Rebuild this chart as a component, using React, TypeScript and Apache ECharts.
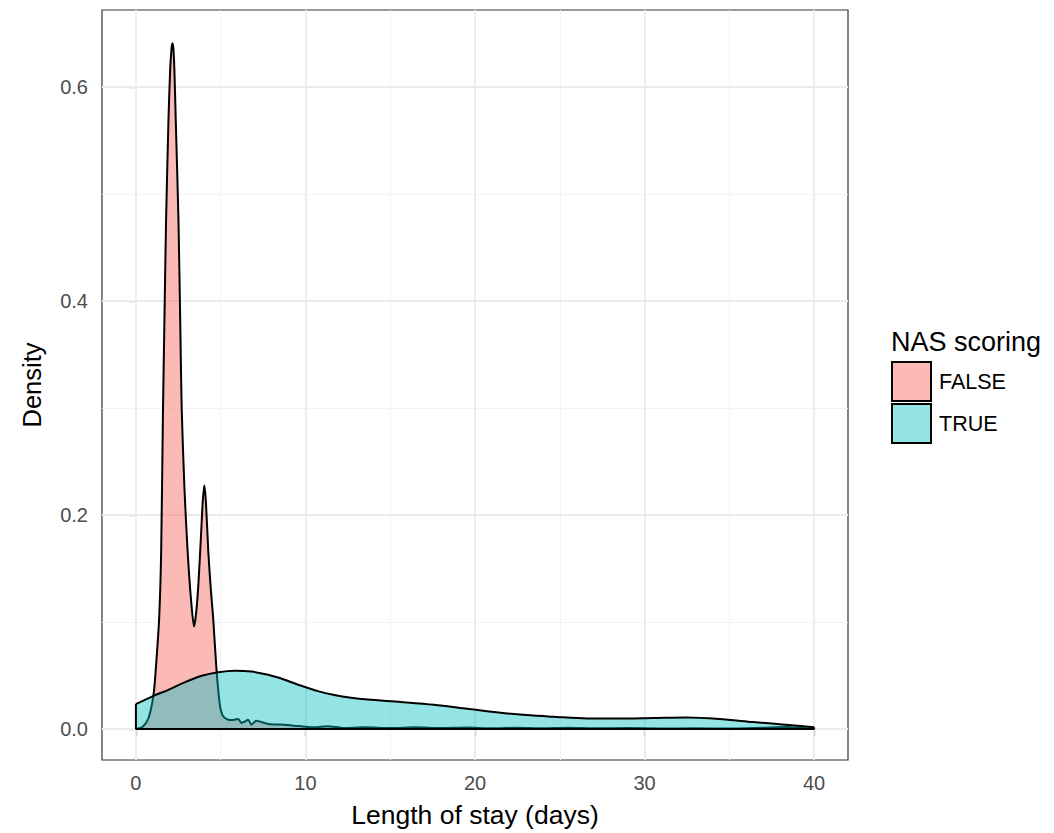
import React, { useEffect, useRef } from "react";
import * as echarts from "echarts";

// ---- data ----
const X_TICKS = [0, 10, 20, 30, 40];
const X_MINOR = [5, 15, 25, 35];
const Y_TICKS = [0, 0.2, 0.4, 0.6];
const Y_MINOR = [0.1, 0.3, 0.5];

const FALSE_X = [
  0, 0.4, 0.74, 1.04, 1.2, 1.37, 1.49, 1.59, 1.7, 1.78, 1.92, 2.02, 2.1, 2.155, 2.21, 2.27, 2.35, 2.51, 2.62,
  2.7, 2.86, 3.05, 3.25, 3.43, 3.55, 3.68, 3.84, 3.94, 4.035, 4.13, 4.27, 4.42, 4.56, 4.76, 4.95, 5.15, 5.5,
  5.83, 6.03, 6.23, 6.45, 6.62, 6.81, 7.1, 7.4, 7.8, 8.2, 8.77, 9.3, 9.75, 10.5, 11.3, 12.2, 13.5, 15, 16.5,
  18, 19.5, 21, 22.5, 24, 25.5, 27, 29, 31, 33, 35, 37, 38.4, 39.3, 40,
];
const FALSE_Y = [
  0, 0.002, 0.01, 0.032, 0.062, 0.103, 0.166, 0.29, 0.4, 0.476, 0.569, 0.616, 0.636, 0.641, 0.636, 0.616,
  0.569, 0.476, 0.375, 0.3, 0.226, 0.166, 0.121, 0.0957, 0.108, 0.134, 0.181, 0.212, 0.2276, 0.212, 0.1656,
  0.13, 0.103, 0.054, 0.0226, 0.0118, 0.0085, 0.0087, 0.0093, 0.0056, 0.0072, 0.0087, 0.004, 0.0077, 0.0065,
  0.0047, 0.0042, 0.004, 0.003, 0.0025, 0.0015, 0.0025, 0.001, 0.0015, 0.0008, 0.0015, 0.0008, 0.0013, 0.0006,
  0.0012, 0.0006, 0.0011, 0.0006, 0.0008, 0.0004, 0.0006, 0.0005, 0.0012, 0.0018, 0.0008, 0,
];

const TRUE_X = [
  0, 1.04, 1.92, 2.9, 3.88, 4.86, 5.83, 6.81, 7.8, 8.77, 9.75, 10.73, 11.7, 12.69, 13.67, 15.62, 17.58, 19.54,
  21.5, 23.45, 24.6, 26.6, 28.5, 30.5, 32.5, 34.4, 36.4, 38.3, 40,
];
const TRUE_Y = [
  0.0233, 0.031, 0.0366, 0.0438, 0.0497, 0.0531, 0.0545, 0.0537, 0.0506, 0.046, 0.0404, 0.0354, 0.0318,
  0.0292, 0.0275, 0.0252, 0.0226, 0.0189, 0.0152, 0.0125, 0.0115, 0.0099, 0.0097, 0.0102, 0.0107, 0.0093,
  0.0065, 0.004, 0.0016,
];

const GROUPS = ["FALSE", "TRUE"];
const LEGEND_TITLE = "NAS scoring";
const X_TITLE = "Length of stay (days)";
const Y_TITLE = "Density";

const PINK = "rgba(248,118,109,0.5)";
const TEAL = "rgba(0,191,196,0.42)";
const FONT = "Liberation Sans";

const zip = (xs: number[], ys: number[]) => xs.map((x, i) => [x, ys[i]]);

export default function App() {
  const ref = useRef<HTMLDivElement>(null);

  useEffect(() => {
    document.body.style.margin = "0";
    if (!ref.current) return;
    const chart = echarts.init(ref.current, null, { renderer: "svg" });

    const major = { color: "#EBEBEB", width: 1.8, type: "solid" };
    const minor = { color: "#F3F3F3", width: 1, type: "solid" };
    const gridLines = [
      ...X_MINOR.map((v) => ({ xAxis: v, lineStyle: minor })),
      ...Y_MINOR.map((v) => ({ yAxis: v, lineStyle: minor })),
      ...X_TICKS.map((v) => ({ xAxis: v, lineStyle: major })),
      ...Y_TICKS.map((v) => ({ yAxis: v, lineStyle: major })),
    ];

    const lastTrue = TRUE_Y[TRUE_Y.length - 1];
    const baseline = [
      [0, TRUE_Y[0]],
      [0, 0],
      [40, 0],
      [40, lastTrue],
    ];

    chart.setOption({
      animation: false,
      grid: {
        left: 102,
        top: 10,
        width: 746,
        height: 752,
        show: true,
        borderColor: "#333333",
        borderWidth: 1.2,
        backgroundColor: "transparent",
      },
      xAxis: {
        type: "value",
        min: -2,
        max: 42,
        axisLine: { show: false },
        splitLine: { show: false },
        axisTick: {
          show: true,
          length: 7,
          customValues: X_TICKS,
          lineStyle: { color: "#333333", width: 1.2 },
        },
        axisLabel: {
          customValues: X_TICKS,
          color: "#4D4D4D",
          fontSize: 20,
          fontFamily: FONT,
          margin: 13,
        },
        name: X_TITLE,
        nameLocation: "middle",
        nameGap: 41,
        nameTextStyle: { color: "#000", fontSize: 26.5, fontFamily: FONT },
      },
      yAxis: {
        type: "value",
        min: -0.029,
        max: 0.672,
        axisLine: { show: false },
        splitLine: { show: false },
        axisTick: {
          show: true,
          length: 7,
          customValues: Y_TICKS,
          lineStyle: { color: "#333333", width: 1.2 },
        },
        axisLabel: {
          customValues: Y_TICKS,
          color: "#4D4D4D",
          fontSize: 20,
          fontFamily: FONT,
          margin: 14,
          formatter: (v: number) => v.toFixed(1),
        },
        name: Y_TITLE,
        nameLocation: "middle",
        nameGap: 57,
        nameRotate: 90,
        nameTextStyle: { color: "#000", fontSize: 25.5, fontFamily: FONT },
      },
      series: [
        {
          type: "line",
          data: [],
          silent: true,
          z: 1,
          markLine: {
            silent: true,
            symbol: ["none", "none"],
            label: { show: false },
            z: 1,
            data: gridLines,
          },
        },
        {
          name: GROUPS[0],
          type: "line",
          data: zip(FALSE_X, FALSE_Y),
          showSymbol: false,
          smooth: 0.25,
          z: 3,
          lineStyle: { color: "#000", width: 2 },
          areaStyle: { color: PINK, opacity: 1 },
        },
        {
          name: GROUPS[1],
          type: "line",
          data: zip(TRUE_X, TRUE_Y),
          showSymbol: false,
          smooth: 0.3,
          z: 4,
          lineStyle: { color: "#000", width: 2 },
          areaStyle: { color: TEAL, opacity: 1 },
        },
        {
          type: "line",
          data: baseline,
          showSymbol: false,
          z: 5,
          lineStyle: { color: "#000", width: 2 },
        },
      ],
      graphic: [
        {
          type: "text",
          x: 891,
          y: 342,
          style: {
            text: LEGEND_TITLE,
            fontSize: 27,
            fontFamily: FONT,
            fill: "#000",
            verticalAlign: "middle",
          },
        },
        {
          type: "rect",
          shape: { x: 892, y: 362, width: 39, height: 39 },
          style: { fill: PINK, stroke: "#000", lineWidth: 2 },
        },
        {
          type: "rect",
          shape: { x: 892, y: 404, width: 39, height: 39 },
          style: { fill: TEAL, stroke: "#000", lineWidth: 2 },
        },
        {
          type: "text",
          x: 939,
          y: 382,
          style: { text: GROUPS[0], fontSize: 21.5, fontFamily: FONT, fill: "#000", verticalAlign: "middle" },
        },
        {
          type: "text",
          x: 939,
          y: 424,
          style: { text: GROUPS[1], fontSize: 21.5, fontFamily: FONT, fill: "#000", verticalAlign: "middle" },
        },
      ],
    });

    return () => chart.dispose();
  }, []);

  return <div ref={ref} style={{ width: 1054, height: 833 }} />;
}
